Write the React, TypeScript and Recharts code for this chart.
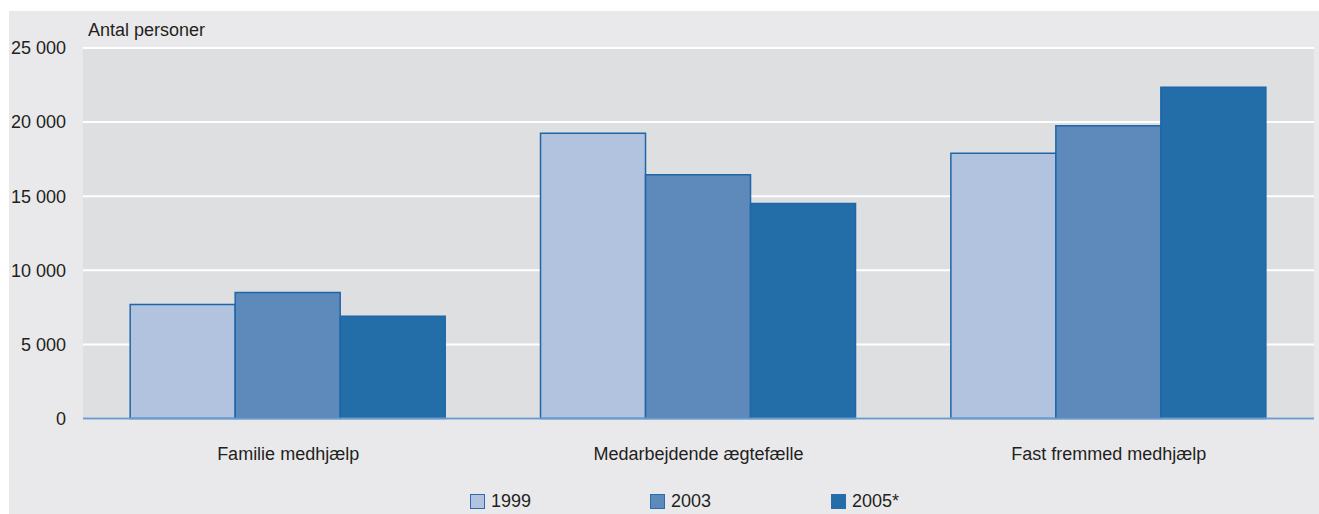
import React from 'react';
import { BarChart, Bar, XAxis, YAxis, CartesianGrid } from 'recharts';

const categories = ['Familie medhjælp', 'Medarbejdende ægtefælle', 'Fast fremmed medhjælp'];
const values1999 = [7700, 19250, 17900];
const values2003 = [8500, 16450, 19750];
const values2005 = [6900, 14500, 22350];
const seriesKeys = ['y1999', 'y2003', 'y2005'];
const seriesNames = ['1999', '2003', '2005*'];
const seriesColors = ['#b2c3df', '#5d89bb', '#236ea9'];
const yTicks = [0, 5000, 10000, 15000, 20000, 25000];
const yAxisTitle = 'Antal personer';

const data = categories.map((name, i) => ({
  name,
  y1999: values1999[i],
  y2003: values2003[i],
  y2005: values2005[i],
}));

const FONT = '"Liberation Sans", Arial, sans-serif';
const FS = 18;
const TEXT = '#231f20';
const legendLefts = [470, 650, 831];

const fmt = (v: number) => (v === 0 ? '0' : String(v).replace(/\B(?=(\d{3})+(?!\d))/g, ' '));

export default function App() {
  return (
    <div style={{ position: 'absolute', left: 0, top: 0, width: 1319, height: 514, background: '#ffffff', fontFamily: FONT, overflow: 'hidden' }}>
      <div style={{ position: 'absolute', left: 9, top: 11, width: 1310, height: 503, background: '#e9e9eb' }} />
      <div style={{ position: 'absolute', left: 0, top: 0 }}>
        <BarChart
          width={1319}
          height={514}
          data={data}
          margin={{ top: 48, right: 5, bottom: 35.5, left: 13 }}
          barCategoryGap="11.5%"
          barGap={0}
        >
          <CartesianGrid vertical={false} stroke="#ffffff" strokeWidth={2} fill="#dedfe1" fillOpacity={1} />
          <XAxis
            dataKey="name"
            height={60}
            axisLine={{ stroke: '#6b9bcc', strokeWidth: 2 }}
            tickLine={false}
            tickSize={0}
            tickMargin={29}
            tick={{ fill: TEXT, fontSize: FS, fontFamily: FONT }}
            interval={0}
          />
          <YAxis
            width={70}
            domain={[0, 25000]}
            ticks={yTicks}
            axisLine={false}
            tickLine={false}
            tickSize={0}
            tickMargin={17}
            tickFormatter={fmt}
            tick={{ fill: TEXT, fontSize: FS, fontFamily: FONT }}
            interval={0}
          />
          {seriesKeys.map((k, i) => (
            <Bar
              key={k}
              dataKey={k}
              name={seriesNames[i]}
              fill={seriesColors[i]}
              stroke="#1f66a8"
              strokeWidth={1.5}
              isAnimationActive={false}
            />
          ))}
        </BarChart>
      </div>
      <div style={{ position: 'absolute', left: 88, top: 20, fontSize: FS, color: TEXT, whiteSpace: 'nowrap' }}>{yAxisTitle}</div>
      {seriesNames.map((n, i) => (
        <div
          key={n}
          style={{ position: 'absolute', left: legendLefts[i], top: 486, height: 30, display: 'flex', alignItems: 'center', fontSize: FS, color: TEXT, whiteSpace: 'nowrap' }}
        >
          <div style={{ width: 13, height: 13, background: seriesColors[i], border: '1px solid #2a6cae', marginRight: 6 }} />
          <span>{n}</span>
        </div>
      ))}
    </div>
  );
}
